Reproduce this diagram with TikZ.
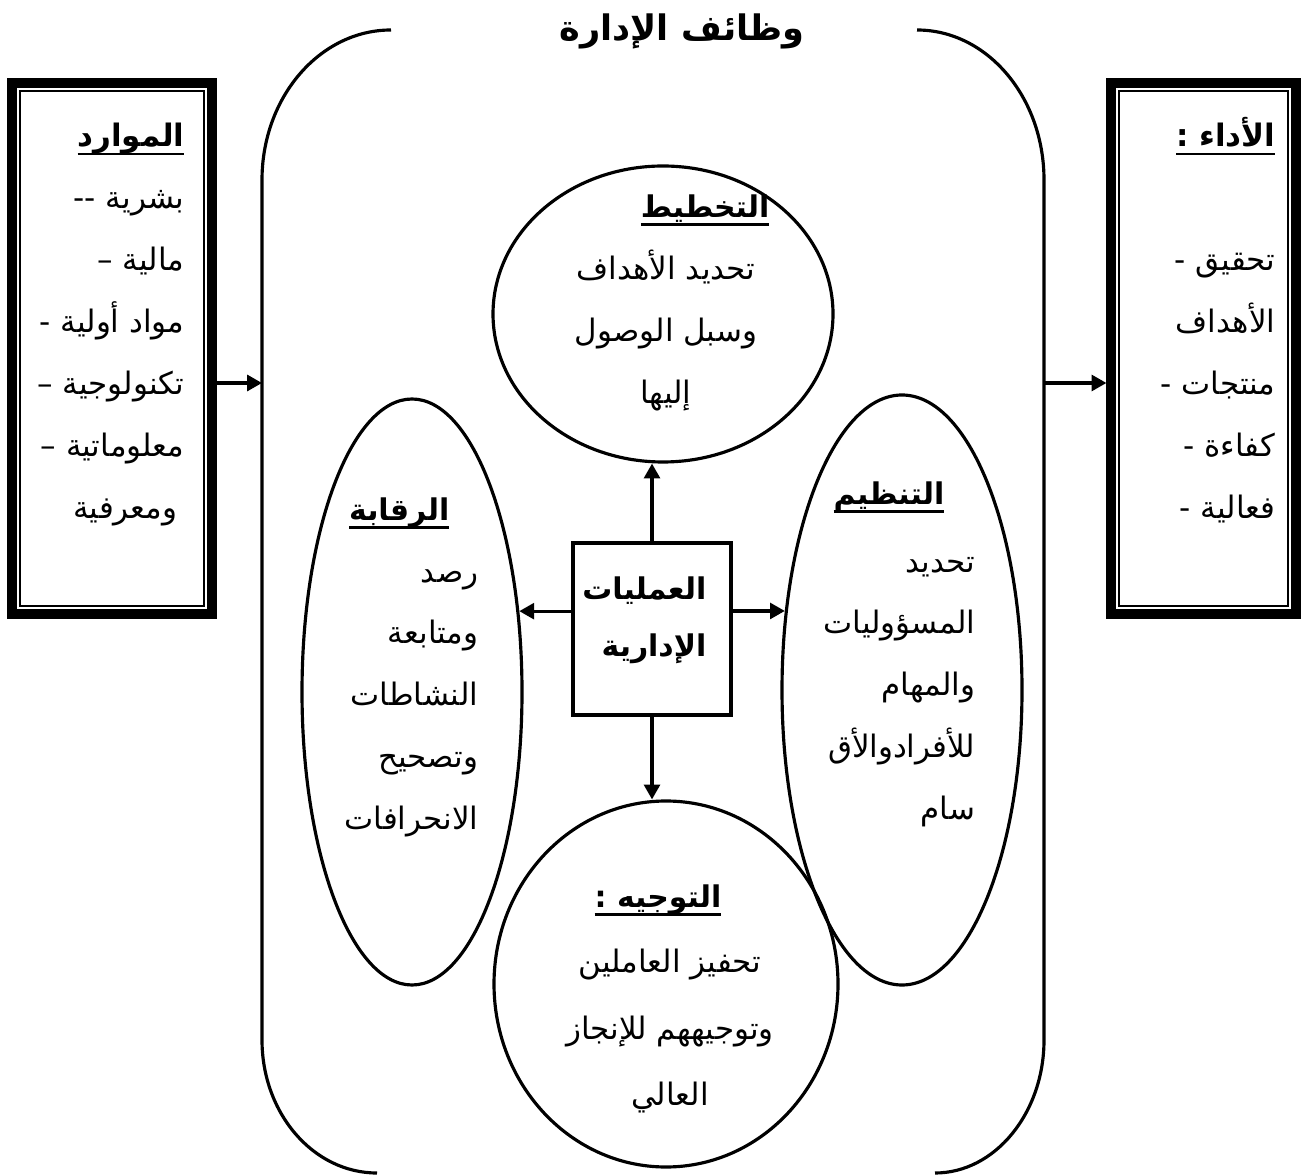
\documentclass[tikz,border=0pt]{standalone}
\usepackage{fontspec}
\usepackage{tikz}
\usetikzlibrary{arrows.meta,calc,shapes.geometric}
\TeXXeTstate=1
\newfontfamily\arabicfont[Script=Arabic]{DejaVu Sans}
\newcommand{\ulin}[1]{\setbox0\hbox{#1}\rlap{\rule[-2.4pt]{\wd0}{0.7pt}}\box0}

\begin{document}
\begin{tikzpicture}[x=0.1mm, y=-0.1mm,
    txt/.style={font=\arabicfont\fontsize{8.8}{17.6}\selectfont, inner sep=0pt},
    hd/.style={txt, font=\arabicfont\bfseries\fontsize{8.5}{16.4}\selectfont},
    shp/.style={draw, ellipse, line width=0.9pt, inner sep=0pt},
    sidebox/.style={draw, line width=2.6pt, inner sep=0pt},
    arr/.style={line width=0.9pt, -{Triangle[length=4.2pt,width=4.5pt]}}]
    \useasboundingbox (0,0) rectangle (1304,1175);
    % outer frame
    \draw[line width=0.9pt] (391,30) .. controls (320,30) and (262,97) .. (262,180) -- (262,1040) .. controls (262,1113) and (313,1173) .. (377,1173);
    \draw[line width=0.9pt] (917,30) .. controls (987,30) and (1044,97) .. (1044,180) -- (1044,1040) .. controls (1044,1113) and (995,1173) .. (935,1173);
    \node[hd, font=\arabicfont\bfseries\fontsize{10}{16}\selectfont] (title) at (682,31) {\beginR وظائف الإدارة\endR};
    % side boxes
    \node[sidebox, minimum width=20mm, minimum height=53.1mm] (res) at (112,348.5) {};
    \node[sidebox, minimum width=18.5mm, minimum height=53.1mm] (prf) at (1203.5,348.5) {};
    \draw[line width=0.6pt] ($(res.north west)+(12.6,12.6)$) rectangle ($(res.south east)+(-12.6,-12.6)$);
    \draw[line width=0.6pt] ($(prf.north west)+(12.6,12.6)$) rectangle ($(prf.south east)+(-12.6,-12.6)$);
    \node[txt, align=right, anchor=north east] (resT) at (185,103) {\strut\ulin{\bfseries الموارد}\\ -- بشرية\\ – مالية\\ - \beginR مواد أولية\endR\\ – تكنولوجية\\ – معلوماتية\\ ومعرفية\hspace*{0.7mm}};
    \node[txt, align=right, anchor=north east] (prfT) at (1276,103) {\strut\ulin{\bfseries\beginR الأداء :\endR}\\[17.6pt] - تحقيق\\ الأهداف\\ - منتجات\\ - كفاءة\\ - فعالية};
    % functions
    \node[shp, minimum width=34mm, minimum height=29.6mm] (plan) at (663,314) {};
    \node[shp, minimum width=34.4mm, minimum height=36.6mm] (dir) at (666,984) {};
    \node[shp, minimum width=22mm, minimum height=58.6mm] (ctl) at (412,692) {};
    \node[shp, minimum width=24mm, minimum height=59mm] (org) at (902,690) {};
    \node[draw, line width=0.9pt, minimum width=15.8mm, minimum height=17.2mm] (ops) at (652,629) {};
    \node[hd, anchor=east] (planH) at (770,210) {\ulin{التخطيط}};
    \node[txt, align=center, anchor=north] (planT) at (666,236) {\strut\beginR تحديد الأهداف\endR\\ \beginR وسبل الوصول\endR\\ إليها};
    \node[hd, anchor=east] (ctlH) at (450,513) {\ulin{الرقابة}};
    \node[txt, align=right, anchor=north east] (ctlT) at (479,538) {\strut رصد\\ ومتابعة\\ النشاطات\\ وتصحيح\\ الانحرافات};
    \node[hd, anchor=east] (orgH) at (945,497) {\ulin{التنظيم}};
    \node[txt, align=right, anchor=north east] (orgT) at (976,528) {\strut تحديد\\ المسؤوليات\\ والمهام\\ للأفرادوالأق\\ سام};
    \node[hd, anchor=east] (dirH) at (722,900) {\ulin{\beginR التوجيه  :\endR}};
    \node[txt, align=center, anchor=north, font=\arabicfont\fontsize{8.8}{18.8}\selectfont] (dirT) at (670,926) {\strut\beginR تحفيز العاملين\endR\\ \beginR وتوجيههم للإنجاز\endR\\ العالي};
    \node[hd, align=right, anchor=north east] (opsT) at (707,558) {\strut العمليات\\ الإدارية};
    % connectors
    \coordinate (inL) at (262,383);
    \coordinate (outR) at (1044,383);
    \draw[arr] (res.east |- inL) -- (inL);
    \draw[arr] (outR) -- (outR -| prf.west);
    \draw[arr] (ops.north) -- (ops.north |- plan.south);
    \draw[arr] (ops.south) -- (ops.south |- dir.north);
    \draw[arr] (ops.west |- ctl.37) -- (ctl.37);
    \draw[arr] (ops.east |- org.146) -- (org.146);
\end{tikzpicture}
\end{document}
